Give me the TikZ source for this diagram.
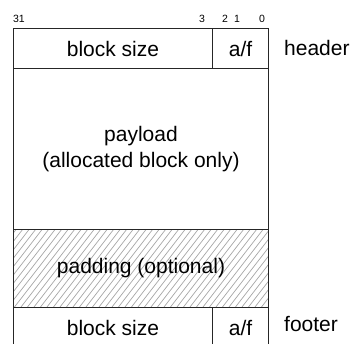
\documentclass[tikz,border=0pt]{standalone}
\usepackage{fontspec}
\setmainfont{Liberation Sans}
\begin{document}
\begin{tikzpicture}[x=1pt,y=-1pt,
  cell/.style={draw=black!85,line width=1pt,rectangle,inner sep=0pt,anchor=north west,font=\fontsize{21}{26}\selectfont,align=center},
  bit/.style={font=\fontsize{10.5}{12}\selectfont,inner sep=0pt},
  side/.style={font=\fontsize{21}{25}\selectfont,inner sep=0pt},
  hatch/.style={black!35,line width=0.7pt}]
\useasboundingbox (0,0) rectangle (351,343);
% padding hatch
\begin{scope}
\clip (13,229) rectangle (268,307);
\foreach \i in {-70,-63.5,...,270} \draw[hatch] (13+\i,307) -- ++(62,-80);
\end{scope}
\node[cell,minimum width=199pt,minimum height=40pt] (hsize) at (13,28) {block size};
\node[cell,minimum width=56pt,minimum height=40pt] (haf) at (212,28) {a/f};
\node[cell,minimum width=255pt,minimum height=161pt] (payload) at (13,68) {payload\\(allocated block only)};
\node[cell,minimum width=255pt,minimum height=78pt] (padding) at (13,229) {padding (optional)};
\node[cell,minimum width=199pt,minimum height=40pt] (fsize) at (13,307) {block size};
\node[cell,minimum width=56pt,minimum height=40pt] (faf) at (212,307) {a/f};
\node[bit] (b31) at (19,19) {31};
\node[bit] (b3) at (202,19) {3};
\node[bit] (b2) at (225,19) {2};
\node[bit] (b1) at (237,19) {1};
\node[bit] (b0) at (262,19) {0};
\node[side,anchor=west] (header) at (284,48) {header};
\node[side,anchor=west] (footer) at (284,324) {footer};
\end{tikzpicture}
\end{document}
